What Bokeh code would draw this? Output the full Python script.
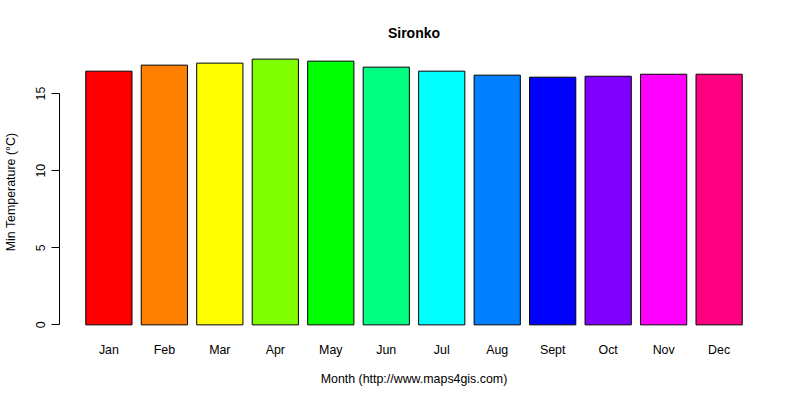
from bokeh.plotting import figure
from bokeh.models import ColumnDataSource, Range1d, FixedTicker
from bokeh.embed import file_html
from bokeh.resources import INLINE

months = ["Jan", "Feb", "Mar", "Apr", "May", "Jun", "Jul", "Aug", "Sept", "Oct", "Nov", "Dec"]
min_temp = [16.45, 16.84, 16.97, 17.23, 17.10, 16.71, 16.45, 16.19, 16.06, 16.12, 16.25, 16.25]
colors = ["#FF0000", "#FF8000", "#FFFF00", "#80FF00", "#00FF00", "#00FF80",
          "#00FFFF", "#0080FF", "#0000FF", "#8000FF", "#FF00FF", "#FF0080"]
y_ticks = [0, 5, 10, 15]

# R barplot geometry: width 1, space 0.2
centers = [0.7 + 1.2 * i for i in range(len(months))]
left_edge = 0.2
right_edge = 0.2 + 1.2 * len(months) - 0.2
xpad = 0.04 * (right_edge - left_edge)
ymax = max(min_temp)

src = ColumnDataSource(dict(x=centers, top=min_temp, color=colors))

FONT = "Liberation Sans"

p = figure(width=784, height=388, output_backend="svg", toolbar_location=None,
           x_range=Range1d(left_edge - xpad, right_edge + xpad),
           y_range=Range1d(-0.04 * ymax, 1.04 * ymax),
           title="Sironko",
           min_border_left=57, min_border_right=16, min_border_top=48, min_border_bottom=50)

p.vbar(x="x", top="top", bottom=0, width=1.0, fill_color="color",
       line_color="black", line_width=1, source=src)

p.outline_line_color = None
p.xgrid.visible = False
p.ygrid.visible = False
p.background_fill_color = "white"
p.border_fill_color = "white"

p.title.align = "center"
p.title.text_font = FONT
p.title.text_font_size = "14px"
p.title.text_font_style = "bold"
p.title.text_color = "black"
p.title.standoff = 15

xa = p.xaxis[0]
xa.ticker = FixedTicker(ticks=centers)
xa.major_label_overrides = {c: m for c, m in zip(centers, months)}
xa.axis_line_color = None
xa.major_tick_line_color = None
xa.major_tick_out = 0
xa.major_tick_in = 0
xa.minor_tick_line_color = None
xa.major_label_text_font = FONT
xa.major_label_text_font_size = "12.4px"
xa.major_label_text_color = "black"
xa.major_label_standoff = 7
xa.axis_label = "Month (http://www.maps4gis.com)"
xa.axis_label_text_font = FONT
xa.axis_label_text_font_size = "12.4px"
xa.axis_label_text_font_style = "normal"
xa.axis_label_text_color = "black"
xa.axis_label_standoff = 12

ya = p.yaxis[0]
ya.ticker = FixedTicker(ticks=y_ticks)
ya.bounds = (0, 15)
ya.axis_line_color = "black"
ya.major_tick_line_color = "black"
ya.major_tick_out = 8
ya.major_tick_in = 0
ya.minor_tick_line_color = None
ya.major_label_orientation = "vertical"
ya.major_label_text_font = FONT
ya.major_label_text_font_size = "12.4px"
ya.major_label_text_color = "black"
ya.major_label_standoff = 6
ya.axis_label = "Min Temperature (°C)"
ya.axis_label_text_font = FONT
ya.axis_label_text_font_size = "12.4px"
ya.axis_label_text_font_style = "normal"
ya.axis_label_text_color = "black"
ya.axis_label_standoff = 16

open("out.html", "w").write(file_html(p, INLINE))
